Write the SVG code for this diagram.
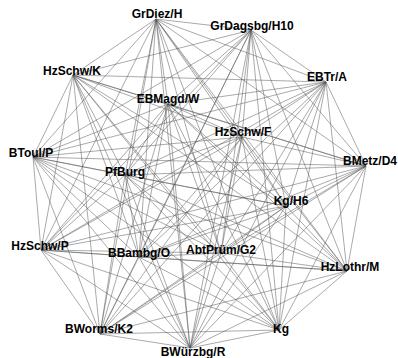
<svg xmlns="http://www.w3.org/2000/svg" width="398" height="358" viewBox="0 0 398 358">
<style>
.e{stroke:#555;stroke-width:0.5;fill:none}
.n text{font-family:"Liberation Sans",Arial,sans-serif;font-weight:bold;font-size:12px;fill:#000;text-anchor:middle}
</style>
<rect width="398" height="358" fill="#fff"/>
<g id="edges" class="e">
<line x1="156" y1="19" x2="251" y2="30"/>
<line x1="156" y1="19" x2="73" y2="75"/>
<line x1="156" y1="19" x2="326" y2="82"/>
<line x1="156" y1="19" x2="168" y2="104"/>
<line x1="156" y1="19" x2="242" y2="137"/>
<line x1="156" y1="19" x2="33" y2="157"/>
<line x1="156" y1="19" x2="125" y2="175"/>
<line x1="156" y1="19" x2="366" y2="166"/>
<line x1="156" y1="19" x2="286" y2="206"/>
<line x1="156" y1="19" x2="41" y2="250"/>
<line x1="156" y1="19" x2="221" y2="253"/>
<line x1="156" y1="19" x2="139" y2="257"/>
<line x1="156" y1="19" x2="347" y2="271"/>
<line x1="156" y1="19" x2="100" y2="334"/>
<line x1="156" y1="19" x2="279" y2="330"/>
<line x1="156" y1="19" x2="190" y2="348"/>
<line x1="251" y1="30" x2="73" y2="75"/>
<line x1="251" y1="30" x2="326" y2="82"/>
<line x1="251" y1="30" x2="168" y2="104"/>
<line x1="251" y1="30" x2="242" y2="137"/>
<line x1="251" y1="30" x2="33" y2="157"/>
<line x1="251" y1="30" x2="125" y2="175"/>
<line x1="251" y1="30" x2="366" y2="166"/>
<line x1="251" y1="30" x2="286" y2="206"/>
<line x1="251" y1="30" x2="41" y2="250"/>
<line x1="251" y1="30" x2="221" y2="253"/>
<line x1="251" y1="30" x2="139" y2="257"/>
<line x1="251" y1="30" x2="347" y2="271"/>
<line x1="251" y1="30" x2="100" y2="334"/>
<line x1="251" y1="30" x2="279" y2="330"/>
<line x1="251" y1="30" x2="190" y2="348"/>
<line x1="73" y1="75" x2="326" y2="82"/>
<line x1="73" y1="75" x2="168" y2="104"/>
<line x1="73" y1="75" x2="242" y2="137"/>
<line x1="73" y1="75" x2="33" y2="157"/>
<line x1="73" y1="75" x2="125" y2="175"/>
<line x1="73" y1="75" x2="366" y2="166"/>
<line x1="73" y1="75" x2="286" y2="206"/>
<line x1="73" y1="75" x2="41" y2="250"/>
<line x1="73" y1="75" x2="221" y2="253"/>
<line x1="73" y1="75" x2="139" y2="257"/>
<line x1="73" y1="75" x2="347" y2="271"/>
<line x1="73" y1="75" x2="100" y2="334"/>
<line x1="73" y1="75" x2="279" y2="330"/>
<line x1="73" y1="75" x2="190" y2="348"/>
<line x1="326" y1="82" x2="168" y2="104"/>
<line x1="326" y1="82" x2="242" y2="137"/>
<line x1="326" y1="82" x2="33" y2="157"/>
<line x1="326" y1="82" x2="125" y2="175"/>
<line x1="326" y1="82" x2="366" y2="166"/>
<line x1="326" y1="82" x2="286" y2="206"/>
<line x1="326" y1="82" x2="41" y2="250"/>
<line x1="326" y1="82" x2="221" y2="253"/>
<line x1="326" y1="82" x2="139" y2="257"/>
<line x1="326" y1="82" x2="347" y2="271"/>
<line x1="326" y1="82" x2="100" y2="334"/>
<line x1="326" y1="82" x2="279" y2="330"/>
<line x1="326" y1="82" x2="190" y2="348"/>
<line x1="168" y1="104" x2="242" y2="137"/>
<line x1="168" y1="104" x2="33" y2="157"/>
<line x1="168" y1="104" x2="125" y2="175"/>
<line x1="168" y1="104" x2="366" y2="166"/>
<line x1="168" y1="104" x2="286" y2="206"/>
<line x1="168" y1="104" x2="41" y2="250"/>
<line x1="168" y1="104" x2="221" y2="253"/>
<line x1="168" y1="104" x2="139" y2="257"/>
<line x1="168" y1="104" x2="347" y2="271"/>
<line x1="168" y1="104" x2="100" y2="334"/>
<line x1="168" y1="104" x2="279" y2="330"/>
<line x1="168" y1="104" x2="190" y2="348"/>
<line x1="242" y1="137" x2="33" y2="157"/>
<line x1="242" y1="137" x2="125" y2="175"/>
<line x1="242" y1="137" x2="366" y2="166"/>
<line x1="242" y1="137" x2="286" y2="206"/>
<line x1="242" y1="137" x2="41" y2="250"/>
<line x1="242" y1="137" x2="221" y2="253"/>
<line x1="242" y1="137" x2="139" y2="257"/>
<line x1="242" y1="137" x2="347" y2="271"/>
<line x1="242" y1="137" x2="100" y2="334"/>
<line x1="242" y1="137" x2="279" y2="330"/>
<line x1="242" y1="137" x2="190" y2="348"/>
<line x1="33" y1="157" x2="125" y2="175"/>
<line x1="33" y1="157" x2="366" y2="166"/>
<line x1="33" y1="157" x2="286" y2="206"/>
<line x1="33" y1="157" x2="41" y2="250"/>
<line x1="33" y1="157" x2="221" y2="253"/>
<line x1="33" y1="157" x2="139" y2="257"/>
<line x1="33" y1="157" x2="347" y2="271"/>
<line x1="33" y1="157" x2="100" y2="334"/>
<line x1="33" y1="157" x2="279" y2="330"/>
<line x1="33" y1="157" x2="190" y2="348"/>
<line x1="125" y1="175" x2="366" y2="166"/>
<line x1="125" y1="175" x2="286" y2="206"/>
<line x1="125" y1="175" x2="41" y2="250"/>
<line x1="125" y1="175" x2="221" y2="253"/>
<line x1="125" y1="175" x2="139" y2="257"/>
<line x1="125" y1="175" x2="347" y2="271"/>
<line x1="125" y1="175" x2="100" y2="334"/>
<line x1="125" y1="175" x2="279" y2="330"/>
<line x1="125" y1="175" x2="190" y2="348"/>
<line x1="366" y1="166" x2="286" y2="206"/>
<line x1="366" y1="166" x2="41" y2="250"/>
<line x1="366" y1="166" x2="221" y2="253"/>
<line x1="366" y1="166" x2="139" y2="257"/>
<line x1="366" y1="166" x2="347" y2="271"/>
<line x1="366" y1="166" x2="100" y2="334"/>
<line x1="366" y1="166" x2="279" y2="330"/>
<line x1="366" y1="166" x2="190" y2="348"/>
<line x1="286" y1="206" x2="41" y2="250"/>
<line x1="286" y1="206" x2="221" y2="253"/>
<line x1="286" y1="206" x2="139" y2="257"/>
<line x1="286" y1="206" x2="347" y2="271"/>
<line x1="286" y1="206" x2="100" y2="334"/>
<line x1="286" y1="206" x2="279" y2="330"/>
<line x1="286" y1="206" x2="190" y2="348"/>
<line x1="41" y1="250" x2="221" y2="253"/>
<line x1="41" y1="250" x2="139" y2="257"/>
<line x1="41" y1="250" x2="347" y2="271"/>
<line x1="41" y1="250" x2="100" y2="334"/>
<line x1="41" y1="250" x2="279" y2="330"/>
<line x1="41" y1="250" x2="190" y2="348"/>
<line x1="221" y1="253" x2="139" y2="257"/>
<line x1="221" y1="253" x2="347" y2="271"/>
<line x1="221" y1="253" x2="100" y2="334"/>
<line x1="221" y1="253" x2="279" y2="330"/>
<line x1="221" y1="253" x2="190" y2="348"/>
<line x1="139" y1="257" x2="347" y2="271"/>
<line x1="139" y1="257" x2="100" y2="334"/>
<line x1="139" y1="257" x2="279" y2="330"/>
<line x1="139" y1="257" x2="190" y2="348"/>
<line x1="347" y1="271" x2="100" y2="334"/>
<line x1="347" y1="271" x2="279" y2="330"/>
<line x1="347" y1="271" x2="190" y2="348"/>
<line x1="100" y1="334" x2="279" y2="330"/>
<line x1="100" y1="334" x2="190" y2="348"/>
<line x1="279" y1="330" x2="190" y2="348"/>
</g>
<g class="n">
<g id="n-GrDiez-H"><text x="157" y="18">GrDiez/H</text></g>
<g id="n-GrDagsbg-H10"><text x="252" y="30">GrDagsbg/H10</text></g>
<g id="n-HzSchw-K"><text x="72" y="75">HzSchw/K</text></g>
<g id="n-EBTr-A"><text x="327" y="81">EBTr/A</text></g>
<g id="n-EBMagd-W"><text x="168" y="103">EBMagd/W</text></g>
<g id="n-HzSchw-F"><text x="243" y="136">HzSchw/F</text></g>
<g id="n-BToul-P"><text x="31" y="157">BToul/P</text></g>
<g id="n-PfBurg"><text x="125" y="176">PfBurg</text></g>
<g id="n-BMetz-D4"><text x="370" y="165">BMetz/D4</text></g>
<g id="n-Kg-H6"><text x="291" y="205">Kg/H6</text></g>
<g id="n-HzSchw-P"><text x="40" y="250">HzSchw/P</text></g>
<g id="n-AbtPruem-G2"><text x="221" y="254">AbtPrüm/G2</text></g>
<g id="n-BBambg-O"><text x="139" y="257">BBambg/O</text></g>
<g id="n-HzLothr-M"><text x="350" y="271">HzLothr/M</text></g>
<g id="n-BWorms-K2"><text x="99" y="333">BWorms/K2</text></g>
<g id="n-Kg"><text x="281" y="333">Kg</text></g>
<g id="n-BWuerzbg-R"><text x="193" y="356">BWürzbg/R</text></g>
</g>
</svg>
